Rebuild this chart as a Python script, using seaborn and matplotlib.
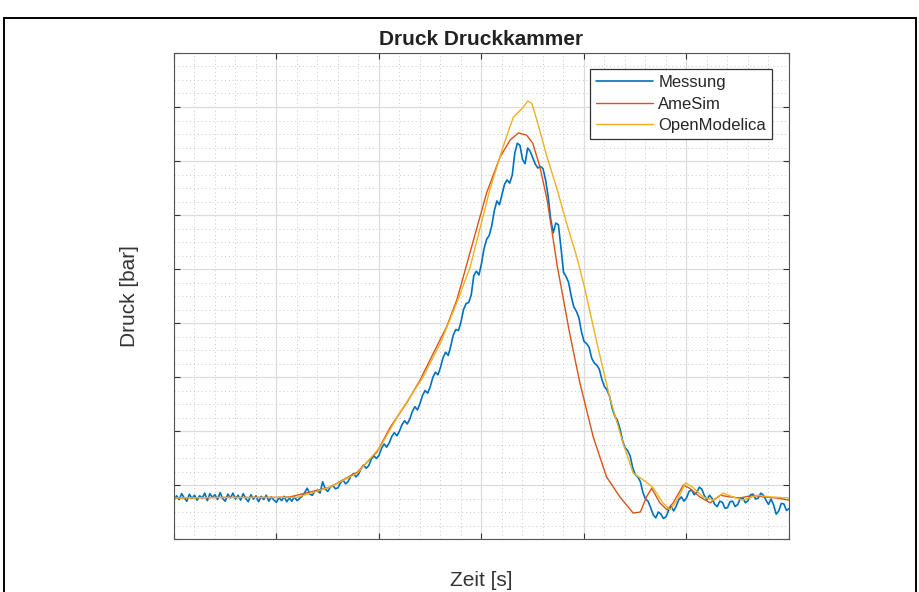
import numpy as np
import pandas as pd
import matplotlib
matplotlib.use("Agg")
import matplotlib.pyplot as plt
from matplotlib.patches import Rectangle
from matplotlib.ticker import MultipleLocator, NullFormatter
import seaborn as sns

# Messung: Werte alle 0.25 Zeiteinheiten
mess_p = [
    7.2, 8.0, 7.3, 8.4, 7.6, 7.0, 8.3, 7.5, 8.1, 7.2,
    8.0, 7.6, 8.5, 7.1, 8.4, 7.7, 8.2, 7.3, 8.6, 7.5,
    7.0, 8.3, 7.6, 8.5, 7.4, 8.1, 7.2, 8.4, 7.5, 6.9,
    8.2, 7.4, 8.0, 6.9, 7.9, 7.3, 8.1, 7.0, 7.8, 7.2,
    6.8, 7.7, 7.1, 7.9, 6.9, 7.6, 7.0, 7.8, 7.1, 7.5,
    7.9, 8.6, 9.4, 8.3, 8.1, 8.9, 9.0, 8.5, 10.6, 9.3,
    8.8, 9.6, 9.9, 9.3, 9.5, 10.4, 10.9, 10.2, 10.7, 11.6,
    12.1, 11.5, 12.0, 13.0, 13.7, 13.1, 13.6, 14.8, 15.4, 14.9,
    15.5, 16.8, 17.6, 17.0, 17.8, 19.0, 19.7, 19.1, 20.0, 21.2,
    21.9, 21.3, 22.2, 23.6, 24.5, 23.9, 25.1, 26.6, 27.5, 27.0,
    28.2, 29.9, 30.9, 30.4, 31.8, 33.6, 34.6, 34.0, 35.7, 37.8,
    38.8, 38.6, 40.2, 42.5, 43.6, 43.8, 45.2, 48.8, 49.6, 48.9,
    51.0, 53.8, 55.5, 56.2, 58.0, 60.8, 62.6, 61.9, 63.8, 65.7,
    66.5, 65.9, 67.4, 71.5, 73.3, 72.9, 70.3, 69.5, 72.4, 71.8,
    70.6, 69.4, 68.7, 69.0, 68.6, 66.5, 63.5, 59.2, 56.7, 58.5,
    58.2, 54.0, 49.4, 48.6, 47.5, 45.0, 43.0, 42.2, 41.0, 38.4,
    36.6, 36.2, 35.5, 33.5, 32.6, 32.2, 31.4, 29.5, 28.2, 27.6,
    26.4, 24.2, 22.8, 22.0, 20.5, 18.3, 16.9, 16.4, 15.4, 13.2,
    11.9, 11.5, 10.6, 8.6, 7.4, 7.0, 5.8, 4.5, 3.9, 5.0,
    4.6, 3.8, 4.1, 5.3, 6.0, 5.2, 6.1, 7.3, 7.8, 7.0,
    7.6, 8.8, 9.1, 8.2, 8.6, 9.6, 9.2, 8.0, 7.3, 8.1,
    7.5, 6.4, 6.0, 7.0, 6.8, 5.7, 5.8, 6.9, 7.0, 6.0,
    6.4, 7.5, 7.6, 6.7, 7.1, 8.2, 8.3, 7.4, 7.6, 8.5,
    8.1, 7.2, 6.4, 7.4, 6.3, 4.6, 5.2, 6.6, 6.5, 5.3,
    5.6,
]
mess_t = np.linspace(0, 60, len(mess_p))

# AmeSim Simulation
ame_t = [0, 5, 10, 11.3, 13.3, 15.2, 17.9, 19.8, 21.1, 22.7, 24.0, 25.3, 26.6,
         27.6, 30.5, 31.8, 32.8, 33.6, 34.4, 35.0, 35.7, 36.4, 36.9, 37.4, 37.7,
         38.6, 39.6, 40.9, 42.2, 43.5, 44.8, 45.5, 46.1, 46.6, 47.4, 48.1, 48.7,
         49.7, 50.3, 51.3, 52.3, 53.3, 54.2, 55.2, 56.5, 57.5, 58.8, 60.0]
ame_p = [7.6, 7.7, 7.7, 7.8, 8.7, 9.6, 12.4, 16.1, 20.7, 25.2, 29.4, 34.4, 39.3,
         44.3, 64.1, 70.7, 73.9, 75.2, 74.8, 73.3, 68.9, 62.8, 56.7, 50.4, 47.4,
         38.1, 28.9, 18.9, 11.5, 7.8, 4.8, 5.0, 7.8, 9.4, 6.7, 5.4, 6.7,
         10.0, 9.4, 7.8, 6.7, 8.1, 7.8, 7.6, 8.1, 7.8, 7.6, 7.2]

# OpenModelica Simulation
om_t = [0, 5, 10, 12, 15.2, 17.9, 20.1, 22.0, 24.3, 26.0, 27.7, 28.9, 30.8,
        32.1, 33.1, 34.0, 34.5, 34.9, 35.4, 36.4, 37.4, 38.3, 39.3, 40.0, 41.3,
        42.5, 43.8, 44.8, 45.8, 46.7, 47.7, 48.4, 49.1, 49.9, 50.6, 51.6, 52.6,
        53.6, 54.5, 55.5, 56.9, 58.1, 60.0]
om_p = [7.6, 7.7, 7.7, 7.7, 9.6, 12.2, 17.0, 23.3, 30.0, 36.3, 44.3, 50.4, 64.6,
        72.6, 78.1, 79.8, 81.1, 80.7, 77.6, 70.7, 64.6, 58.5, 52.2, 47.0, 36.0,
        26.3, 17.8, 12.2, 10.9, 9.6, 6.7, 5.4, 7.2, 10.4, 9.6, 7.8, 7.2,
        8.5, 7.8, 7.2, 8.1, 7.8, 7.6]

sns.set_theme(style="white")
plt.rcParams['font.family'] = ['Liberation Sans', 'DejaVu Sans']

fig = plt.figure(figsize=(9.2, 5.92), dpi=100)
ax = fig.add_axes([174 / 920, 53 / 592, 615 / 920, 486 / 592])

sns.lineplot(x=mess_t, y=mess_p, ax=ax, color='#0072BD', linewidth=1.2, label='Messung')
sns.lineplot(x=ame_t, y=ame_p, ax=ax, color='#D95319', linewidth=1.0, label='AmeSim')
sns.lineplot(x=om_t, y=om_p, ax=ax, color='#EDB120', linewidth=1.0, label='OpenModelica')

ax.set_xlim(0, 60)
ax.set_ylim(0, 90)
ax.xaxis.set_major_locator(MultipleLocator(10))
ax.xaxis.set_minor_locator(MultipleLocator(2))
ax.yaxis.set_major_locator(MultipleLocator(10))
ax.yaxis.set_minor_locator(MultipleLocator(2.5))
ax.xaxis.set_major_formatter(NullFormatter())
ax.yaxis.set_major_formatter(NullFormatter())

ax.grid(which='major', color='#dcdcdc', linewidth=0.9, linestyle='-')
ax.grid(which='minor', color='#c8c8c8', linewidth=0.7, linestyle=(0, (1, 3)))
ax.set_axisbelow(True)
ax.tick_params(which='major', direction='in', length=4, width=0.8, color='#333333',
               top=True, right=True, bottom=True, left=True)
ax.tick_params(which='minor', length=0)
for s in ax.spines.values():
    s.set_color('#555555')
    s.set_linewidth(0.8)

ax.set_title('Druck Druckkammer', fontsize=15, fontweight='bold', pad=6, color='#222222')
ax.set_xlabel('Zeit [s]', fontsize=15, color='#333333')
ax.set_ylabel('Druck [bar]', fontsize=15, color='#333333')
ax.xaxis.set_label_coords(0.5, -0.066)
ax.yaxis.set_label_coords(-0.057, 0.5)

leg = ax.legend(loc='upper right', bbox_to_anchor=(0.9724, 0.967), borderaxespad=0,
                fontsize=12, handlelength=3.4, handletextpad=0.35, borderpad=0.35,
                labelspacing=0.4, fancybox=False, framealpha=1)
leg.get_frame().set_edgecolor('#333333')
leg.get_frame().set_linewidth(0.9)

fig.patches.append(Rectangle((4 / 920, -0.02), 912 / 920, 1.0048 - 9 / 592, fill=False,
                             edgecolor='black', linewidth=1.4, transform=fig.transFigure,
                             figure=fig))

fig.savefig('out.png', dpi=100, facecolor='white')
